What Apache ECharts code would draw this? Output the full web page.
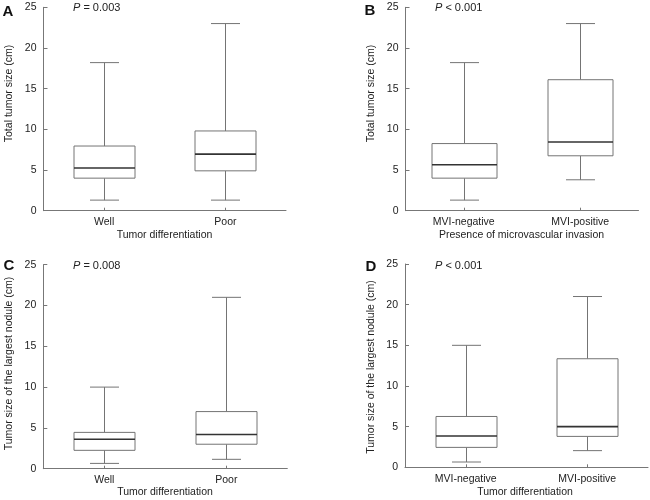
<!DOCTYPE html>
<html>
<head>
<meta charset="utf-8">
<script src="https://cdn.jsdelivr.net/npm/echarts@6/dist/echarts.min.js"></script>
<style>
html,body{margin:0;padding:0;background:#fff;}
#chart{width:650px;height:500px;}
</style>
</head>
<body>
<div id="chart"></div>
<script>
// ---- data (min, Q1, median, Q3, max) ----
var categoriesDiff = ['Well', 'Poor'];
var categoriesMVI = ['MVI-negative', 'MVI-positive'];
var yTicks = [0, 5, 10, 15, 20, 25];

var totalSizeWell = [1.3, 4.0, 5.25, 7.95, 18.2];
var totalSizePoor = [1.3, 4.9, 6.95, 9.8, 23.0];
var totalSizeMVINeg = [1.3, 4.0, 5.65, 8.25, 18.2];
var totalSizeMVIPos = [3.8, 6.75, 8.45, 16.1, 23.0];
var largestWell = [0.65, 2.25, 3.6, 4.45, 10.0];
var largestPoor = [1.15, 3.0, 4.2, 7.0, 21.0];
var largestMVINeg = [0.65, 2.45, 3.85, 6.25, 15.0];
var largestMVIPos = [2.05, 3.8, 5.0, 13.35, 21.0];

var panelLetters = ['A', 'B', 'C', 'D'];
var pTexts = ['0.003', '< 0.001', '0.008', '< 0.001'];
var pOps = ['=', '', '=', ''];
var yNames = ['Total tumor size (cm)', 'Total tumor size (cm)', 'Tumor size of the largest nodule (cm)', 'Tumor size of the largest nodule (cm)'];
var xNames = ['Tumor differentiation', 'Presence of microvascular invasion', 'Tumor differentiation', 'Tumor differentiation'];

var FONT = 'Liberation Sans';
var TXT = '#222';
var AX = '#777';

var panels = [
  {cats: categoriesDiff, stats: [totalSizeWell, totalSizePoor], grid: {left: 43.5, top: 7.3, width: 242.5, height: 203.4}, boxW: 61},
  {cats: categoriesMVI, stats: [totalSizeMVINeg, totalSizeMVIPos], grid: {left: 405.5, top: 7.3, width: 233, height: 203.4}, boxW: 65},
  {cats: categoriesDiff, stats: [largestWell, largestPoor], grid: {left: 43.3, top: 264.7, width: 244, height: 204}, boxW: 61},
  {cats: categoriesMVI, stats: [largestMVINeg, largestMVIPos], grid: {left: 405, top: 264, width: 243, height: 203.3}, boxW: 61}
];

var grids = [], xAxes = [], yAxes = [], series = [];
panels.forEach(function (p, i) {
  grids.push(Object.assign({containLabel: false}, p.grid));
  xAxes.push({
    type: 'category', gridIndex: i, data: p.cats, boundaryGap: true,
    axisLine: {lineStyle: {color: AX, width: 1}},
    axisTick: {show: true, inside: true, length: 3, alignWithLabel: true, lineStyle: {color: AX}},
    axisLabel: {color: TXT, fontFamily: FONT, fontSize: 10.5, margin: 6},
    splitLine: {show: false}
  });
  yAxes.push({
    type: 'value', gridIndex: i, min: 0, max: 25, interval: 5,
    axisLine: {show: true, lineStyle: {color: AX, width: 1}},
    axisTick: {show: true, inside: true, length: 4, lineStyle: {color: AX}},
    axisLabel: {color: TXT, fontFamily: FONT, fontSize: 10.5, margin: 7},
    splitLine: {show: false}
  });
  var data = p.stats.map(function (s, k) { return [k].concat(s); });
  var boxW = p.boxW;
  series.push({
    type: 'custom', xAxisIndex: i, yAxisIndex: i, data: data, silent: true,
    renderItem: function (params, api) {
      var x = api.value(0);
      var pMin = api.coord([x, api.value(1)]);
      var pQ1 = api.coord([x, api.value(2)]);
      var pMed = api.coord([x, api.value(3)]);
      var pQ3 = api.coord([x, api.value(4)]);
      var pMax = api.coord([x, api.value(5)]);
      var cx = Math.round(pMin[0]) + 0.5;
      var hw = boxW / 2, cw = 14.5;
      var st = {stroke: '#747474', lineWidth: 1, fill: null};
      return {
        type: 'group',
        children: [
          {type: 'line', shape: {x1: cx, y1: pMax[1], x2: cx, y2: pQ3[1]}, style: st},
          {type: 'line', shape: {x1: cx, y1: pQ1[1], x2: cx, y2: pMin[1]}, style: st},
          {type: 'line', shape: {x1: cx - cw, y1: pMax[1], x2: cx + cw, y2: pMax[1]}, style: st},
          {type: 'line', shape: {x1: cx - cw, y1: pMin[1], x2: cx + cw, y2: pMin[1]}, style: st},
          {type: 'rect', shape: {x: cx - hw, y: pQ3[1], width: boxW, height: pQ1[1] - pQ3[1]}, style: {stroke: '#747474', lineWidth: 1, fill: '#fff'}},
          {type: 'line', shape: {x1: cx - hw, y1: pMed[1], x2: cx + hw, y2: pMed[1]}, style: {stroke: '#333', lineWidth: 1.6}}
        ]
      };
    }
  });
});

// annotation positions
var letterPos = [[8, 12], [370, 11], [9, 266], [371, 267]];
var pPos = [[73, 8], [435, 8], [73, 266], [435, 266]];
var yNamePos = [[9, 93.5], [371, 93.5], [9, 363.5], [371, 367]];
var xNamePos = [[164.5, 235], [521.5, 235], [165, 492], [525, 492]];

var graphics = [];
panels.forEach(function (p, i) {
  graphics.push({type: 'text', x: letterPos[i][0], y: letterPos[i][1],
    style: {text: panelLetters[i], font: 'bold 15px ' + FONT, fill: '#111', textAlign: 'center', textVerticalAlign: 'middle'}});
  graphics.push({type: 'text', x: pPos[i][0], y: pPos[i][1],
    style: {text: '{i|P} ' + (pOps[i] ? pOps[i] + ' ' : '') + pTexts[i], rich: {i: {fontStyle: 'italic', fontFamily: FONT, fontSize: 11, fill: TXT}},
      fontFamily: FONT, fontSize: 11, fill: TXT, textAlign: 'left', textVerticalAlign: 'middle'}});
  graphics.push({type: 'text', x: yNamePos[i][0], y: yNamePos[i][1], rotation: Math.PI / 2,
    style: {text: yNames[i], fontFamily: FONT, fontSize: 10.5, fill: TXT, textAlign: 'center', textVerticalAlign: 'middle'}});
  graphics.push({type: 'text', x: xNamePos[i][0], y: xNamePos[i][1],
    style: {text: xNames[i], fontFamily: FONT, fontSize: 10.5, fill: TXT, textAlign: 'center', textVerticalAlign: 'middle'}});
});

var chart = echarts.init(document.getElementById('chart'), null, {renderer: 'canvas'});
chart.setOption({
  backgroundColor: '#fff',
  animation: false,
  grid: grids,
  xAxis: xAxes,
  yAxis: yAxes,
  series: series,
  graphic: graphics
});
</script>
</body>
</html>
